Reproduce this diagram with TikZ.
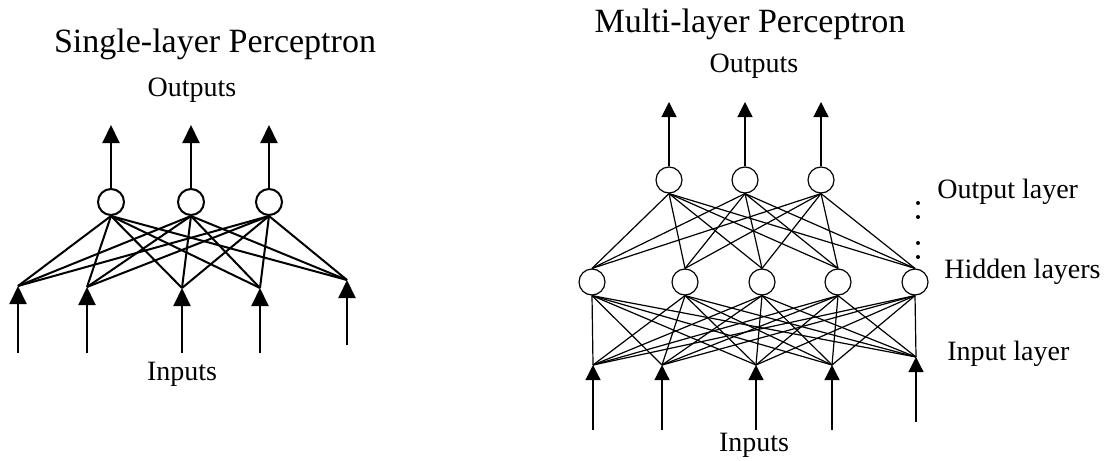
\documentclass[tikz,border=0pt]{standalone}
\usepackage{fontspec}
\setmainfont{Liberation Serif}
\usetikzlibrary{arrows.meta}

\begin{document}
\begin{tikzpicture}[x=0.5pt,y=-0.5pt,
    unit/.style={circle,draw,inner sep=0pt,minimum size=13pt},
    bigtip/.style={-{Triangle[length=9pt,width=8.5pt]}},
    smalltip/.style={-{Triangle[length=7.5pt,width=7.5pt]}},
    title/.style={anchor=base,font=\fontsize{17}{20}\selectfont},
    lbl/.style={anchor=base,font=\fontsize{14}{17}\selectfont},
    lblw/.style={anchor=base west,font=\fontsize{14}{17}\selectfont}]
  \useasboundingbox (0,0) rectangle (1111,460);

  % single-layer perceptron
  \begin{scope}[line width=1pt]
    \node[title] (stitle) at (215,53) {Single-layer Perceptron};
    \node[lbl] (sout) at (192,97) {Outputs};
    \node[lbl] (sin) at (182,380) {Inputs};
    \node[unit] (so1) at (111,202) {};
    \node[unit] (so2) at (191,202) {};
    \node[unit] (so3) at (269,202) {};
    \coordinate (sy1) at (111,125);
    \coordinate (sy2) at (191,125);
    \coordinate (sy3) at (269,125);
    \coordinate (sx1) at (18,286);
    \coordinate (sx2) at (87,287);
    \coordinate (sx3) at (182,288);
    \coordinate (sx4) at (260,288);
    \coordinate (sx5) at (347,280);
    \coordinate (sb1) at (18,353);
    \coordinate (sb2) at (87,353);
    \coordinate (sb3) at (182,353);
    \coordinate (sb4) at (260,353);
    \coordinate (sb5) at (347,345);
    \foreach \i in {1,2,3} {
      \draw[bigtip] (so\i.north) -- (sy\i);
      \foreach \j in {1,...,5}
        \draw (so\i.south) -- (sx\j);
    }
    \foreach \j in {1,...,5}
      \draw[bigtip] (sb\j) -- (sx\j);
  \end{scope}

  % multi-layer perceptron
  \begin{scope}[line width=0.6pt]
    \node[title] (mtitle) at (750,33) {Multi-layer Perceptron};
    \node[lbl] (mout) at (754,73) {Outputs};
    \node[lbl] (min) at (754,451) {Inputs};
    \node[lblw] (lout) at (930,198) {Output layer};
    \node[lblw] (lhid) at (937,278) {Hidden layers};
    \node[lblw] (linp) at (940,360) {Input layer};
    \node[unit] (mo1) at (669,180) {};
    \node[unit] (mo2) at (745,180) {};
    \node[unit] (mo3) at (821,180) {};
    \node[unit] (mh1) at (592,282) {};
    \node[unit] (mh2) at (685,282) {};
    \node[unit] (mh3) at (762,282) {};
    \node[unit] (mh4) at (838,282) {};
    \node[unit] (mh5) at (915,282) {};
    \coordinate (my1) at (669,102);
    \coordinate (my2) at (745,102);
    \coordinate (my3) at (821,102);
    \coordinate (mx1) at (593,365);
    \coordinate (mx2) at (662,365);
    \coordinate (mx3) at (756,365);
    \coordinate (mx4) at (832,365);
    \coordinate (mx5) at (916,357);
    \coordinate (mb1) at (593,430);
    \coordinate (mb2) at (662,430);
    \coordinate (mb3) at (756,430);
    \coordinate (mb4) at (832,430);
    \coordinate (mb5) at (916,422);
    \foreach \i in {1,2,3} {
      \draw[smalltip] (mo\i.north) -- (my\i);
      \foreach \j in {1,...,5}
        \draw (mo\i.south) -- (mh\j.north);
    }
    \foreach \i in {1,...,5} {
      \draw[smalltip] (mb\i) -- (mx\i);
      \foreach \j in {1,...,5}
        \draw (mh\i.south) -- (mx\j);
    }
    % dots between the layers
    \foreach \y in {203,217,243,257}
      \fill (918,\y) circle (2);
  \end{scope}
\end{tikzpicture}
\end{document}
